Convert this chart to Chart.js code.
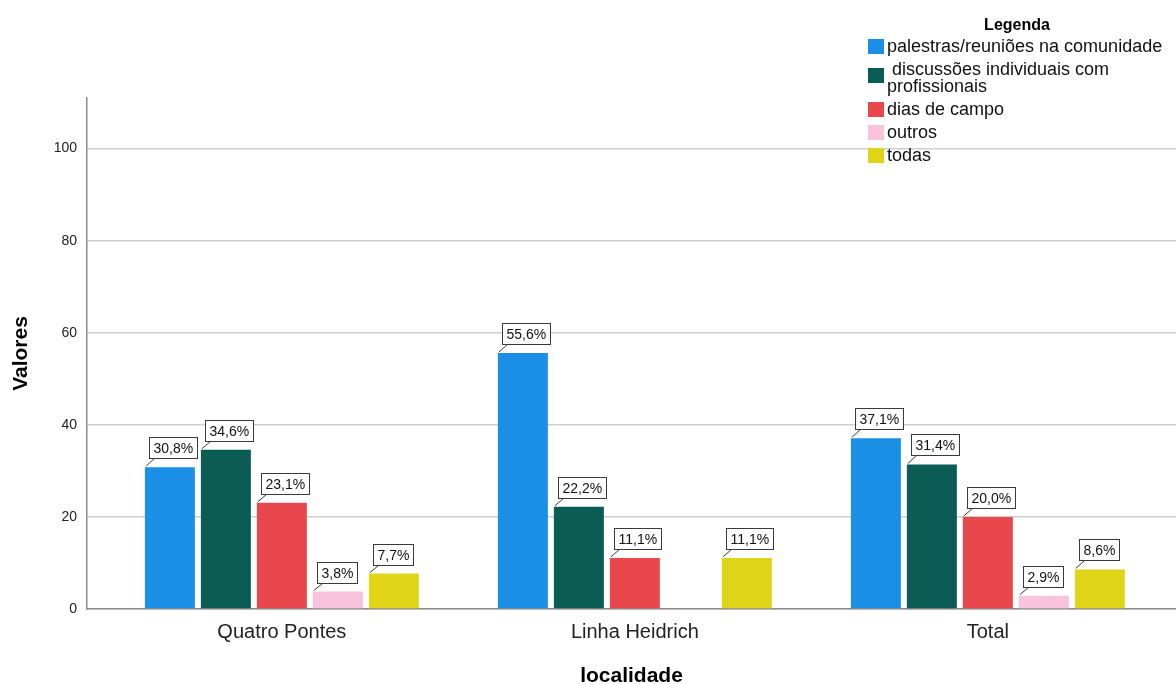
<!DOCTYPE html>
<html lang="pt">
<head>
<meta charset="utf-8">
<title>Meios de informação por localidade</title>
<script src="https://cdn.jsdelivr.net/npm/chart.js@4.4.0/dist/chart.umd.min.js"></script>
<style>
  html, body { margin: 0; padding: 0; background: #fff; }
  #wrap { width: 1176px; height: 684px; position: relative; }
</style>
</head>
<body>
<div id="wrap"><canvas id="grafico"></canvas></div>
<script>
// localidades e percentuais por meio de informação
var localidades = ["Quatro Pontes", "Linha Heidrich", "Total"];
var palestras = [30.8, 55.6, 37.1];
var discussoes = [34.6, 22.2, 31.4];
var diasDeCampo = [23.1, 11.1, 20.0];
var outros = [3.8, null, 2.9];
var todas = [7.7, 11.1, 8.6];
var ticksValores = [0, 20, 40, 60, 80, 100];

var nomesSeries = [
  "palestras/reuniões na comunidade",
  " discussões individuais com\nprofissionais",
  "dias de campo",
  "outros",
  "todas",
];
var valoresSeries = [palestras, discussoes, diasDeCampo, outros, todas];
var coresSeries = ["#1b8fe6", "#0b5c54", "#e8484b", "#f9c2dd", "#e0d419"];

var FONTE = "'Liberation Sans', Arial, sans-serif";

// eixo x linear para deixar a margem entre o eixo y e o primeiro grupo
function pontos(valores) {
  return valores.map(function (v, i) {
    return { x: i, y: v };
  });
}

var datasets = nomesSeries.map(function (nome, i) {
  return {
    label: nome,
    data: pontos(valoresSeries[i]),
    backgroundColor: coresSeries[i],
    borderWidth: 0,
    categoryPercentage: 0.793,
    barPercentage: 0.893,
  };
});

// rótulos com caixa e linha de chamada
var rotulosPlugin = {
  id: "rotulos",
  afterDatasetsDraw: function (chart) {
    var ctx = chart.ctx;
    ctx.save();
    ctx.font = "14px " + FONTE;
    chart.data.datasets.forEach(function (ds, i) {
      var meta = chart.getDatasetMeta(i);
      meta.data.forEach(function (bar, j) {
        var valor = ds.data[j].y;
        if (valor === null || valor === undefined) return;
        var texto = valor.toFixed(1).replace(".", ",") + "%";
        var esq = bar.x - bar.width / 2;
        var topo = bar.y;
        var larg = Math.round(ctx.measureText(texto).width + 8);
        var alt = 21;
        var cx = Math.round(esq + 4) + 0.5;
        var base = Math.round(topo - 9) + 0.5;
        ctx.strokeStyle = "#3a3a3a";
        ctx.lineWidth = 1;
        ctx.beginPath();
        ctx.moveTo(esq + 1, topo - 1);
        ctx.lineTo(cx + 5, base);
        ctx.stroke();
        ctx.fillStyle = "#fff";
        ctx.fillRect(cx, base - alt, larg, alt);
        ctx.strokeRect(cx, base - alt, larg, alt);
        ctx.fillStyle = "#111";
        ctx.textBaseline = "middle";
        ctx.textAlign = "left";
        ctx.fillText(texto, cx + 4, base - alt / 2 + 1);
      });
    });
    ctx.restore();
  },
};

// legenda no canto superior direito
var legendaPlugin = {
  id: "legendaSpss",
  afterDraw: function (chart) {
    var ctx = chart.ctx;
    ctx.save();
    ctx.fillStyle = "#000";
    ctx.textAlign = "center";
    ctx.textBaseline = "middle";
    ctx.font = "bold 16px " + FONTE;
    ctx.fillText("Legenda", 1017, 26);

    ctx.textAlign = "left";
    ctx.font = "18px " + FONTE;
    var y = 47;
    chart.data.datasets.forEach(function (ds) {
      var linhas = ds.label.split("\n");
      ctx.fillStyle = ds.backgroundColor;
      var cy = y + (linhas.length - 1) * 6;
      ctx.fillRect(868, cy - 8, 16, 15);
      ctx.fillStyle = "#111";
      linhas.forEach(function (l, k) {
        ctx.fillText(l, 887, y + k * 17);
      });
      y += linhas.length * 17 + 6;
    });
    ctx.restore();
  },
};

new Chart(document.getElementById("grafico"), {
  type: "bar",
  data: { datasets: datasets },
  options: {
    responsive: true,
    maintainAspectRatio: false,
    animation: false,
    layout: { padding: { top: 98, left: 0, right: 0, bottom: 0 } },
    plugins: {
      legend: { display: false },
      tooltip: { enabled: false },
    },
    scales: {
      x: {
        type: "linear",
        offset: false,
        min: -0.552,
        max: 2.533,
        afterBuildTicks: function (scale) {
          scale.ticks = localidades.map(function (l, i) {
            return { value: i };
          });
        },
        afterFit: function (scale) {
          scale.height = 75;
        },
        grid: { display: false, drawTicks: false, offset: false },
        border: { display: true, color: "#8c8c8c", width: 1.5 },
        ticks: {
          padding: 11,
          color: "#222",
          font: { family: FONTE, size: 20 },
          callback: function (v) {
            return localidades[v];
          },
        },
        title: {
          display: true,
          text: "localidade",
          color: "#000",
          font: { family: FONTE, size: 21, weight: "bold", lineHeight: 1 },
          padding: { top: 0, bottom: -3 },
        },
      },
      y: {
        min: 0,
        max: 111,
        afterBuildTicks: function (scale) {
          scale.ticks = ticksValores.map(function (v) {
            return { value: v };
          });
        },
        afterFit: function (scale) {
          scale.width = 87;
        },
        grid: { color: "#cfcfcf", lineWidth: 1.5, drawTicks: false },
        border: { display: true, color: "#8c8c8c", width: 1.5 },
        ticks: {
          padding: 10,
          color: "#222",
          font: { family: FONTE, size: 14 },
        },
        title: {
          display: true,
          text: "Valores",
          color: "#000",
          font: { family: FONTE, size: 21, weight: "bold", lineHeight: 1 },
          padding: { top: 11, bottom: 0 },
        },
      },
    },
  },
  plugins: [rotulosPlugin, legendaPlugin],
});
</script>
</body>
</html>
